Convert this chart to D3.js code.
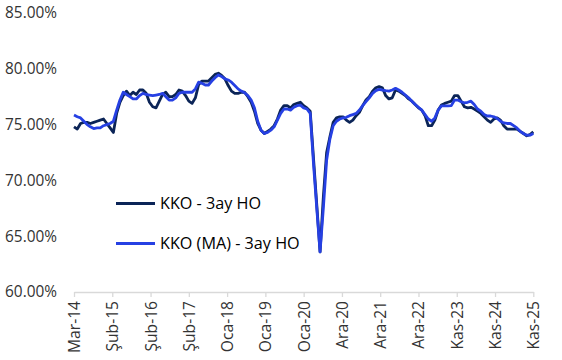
<!DOCTYPE html>
<html>
<head>
<meta charset="utf-8">
<script src="https://cdn.jsdelivr.net/npm/d3@7"></script>
<style>
  html, body { margin: 0; padding: 0; background: #fff; }
  svg { display: block; font-family: 'Open Sans', 'Noto Sans', sans-serif; }
</style>
</head>
<body>
<svg id="chart" width="562" height="360"></svg>
<script>
// monthly values, Mar-14 .. Nov-25
const kko = [
  74.8, 74.6, 75.1, 75.2, 75.2, 75.1, 75.2, 75.3, 75.4, 75.5,
  75.1, 74.7, 74.3, 76.0, 77.0, 77.6, 78.0, 77.6, 77.9, 77.7,
  78.1, 78.1, 77.8, 77.0, 76.6, 76.5, 77.1, 77.7, 77.9, 77.5,
  77.5, 77.7, 78.1, 78.0, 77.6, 77.1, 76.9, 77.4, 78.6, 78.9,
  78.9, 78.9, 79.2, 79.5, 79.6, 79.4, 79.1, 78.5, 78.0, 77.8,
  77.8, 77.9, 77.9, 77.5, 77.0, 76.2, 75.1, 74.5, 74.2, 74.4,
  74.6, 74.9, 75.5, 76.3, 76.7, 76.7, 76.5, 76.8, 76.9, 77.0,
  76.7, 76.5, 76.2, 72.0, 67.8, 63.6, 68.5, 72.5, 73.9, 75.2,
  75.6, 75.7, 75.7, 75.4, 75.2, 75.4, 75.8, 76.1, 76.7, 77.2,
  77.5, 78.0, 78.3, 78.4, 78.3, 77.6, 77.3, 77.4, 78.1, 78.0,
  77.8, 77.6, 77.3, 77.1, 76.8, 76.5, 76.3, 75.8, 74.9, 74.9,
  75.4, 76.3, 76.75, 76.9, 77.0, 77.1, 77.6, 77.6, 77.1, 76.6,
  76.5, 76.55, 76.4, 76.2, 76.0, 75.7, 75.4, 75.2, 75.5, 75.6,
  75.4, 74.9, 74.6, 74.6, 74.6, 74.6, 74.4, 74.2, 74.0, 74.1,
  74.35
];

const kkoMa = [
  75.85, 75.7, 75.6, 75.3, 75.0, 74.8, 74.65, 74.7, 74.7, 74.9,
  75.0, 75.1, 75.3, 76.3, 77.2, 77.9, 77.7, 77.5, 77.3, 77.3,
  77.6, 77.8, 77.7, 77.65, 77.6, 77.65, 77.7, 77.8, 77.5, 77.2,
  77.2, 77.4, 77.8, 77.9, 77.9, 77.9, 77.9, 78.2, 78.8, 78.7,
  78.55, 78.55, 78.9, 79.2, 79.45, 79.3, 79.1, 79.0, 78.8, 78.5,
  78.2, 78.0, 77.85, 77.6, 77.2, 76.5, 75.3, 74.5, 74.2, 74.3,
  74.5, 74.8, 75.4, 76.0, 76.4, 76.4, 76.3, 76.55, 76.7, 76.75,
  76.5, 76.4, 76.0, 71.5, 67.5, 63.6, 67.5, 71.8, 73.7, 74.9,
  75.3, 75.5, 75.6, 75.65, 75.8, 75.9, 76.0, 76.3, 76.7, 77.05,
  77.4, 77.8, 78.05, 78.15, 78.1, 78.04, 78.0, 78.1, 78.25, 78.1,
  77.9, 77.65, 77.4, 77.1, 76.8, 76.55, 76.3, 75.9, 75.5, 75.3,
  75.6, 76.3, 76.67, 76.67, 76.67, 76.7, 77.2, 77.2, 77.05, 76.95,
  77.0, 77.1, 76.8, 76.4, 76.2, 75.9, 75.77, 75.77, 75.7, 75.55,
  75.3, 75.15, 75.1, 75.1, 74.9, 74.7, 74.4, 74.2, 74.05, 74.05,
  74.2
];

const xLabels = ['Mar-14', 'Şub-15', 'Şub-16', 'Şub-17', 'Oca-18', 'Oca-19', 'Oca-20',
  'Ara-20', 'Ara-21', 'Ara-22', 'Kas-23', 'Kas-24', 'Kas-25'];
const yTicks = [60, 65, 70, 75, 80, 85];
const seriesNames = ['KKO - 3ay HO', 'KKO (MA) - 3ay HO'];
const colors = ['#0b2457', '#2640e3'];

const svg = d3.select('#chart');
const n = kko.length;

const x = d3.scaleLinear().domain([0, n - 1]).range([74, 533.3]);
const y = d3.scaleLinear().domain([60, 85]).range([292, 13]);

// y labels, no axis line
const yAxis = svg.append('g')
  .attr('transform', 'translate(74,0)')
  .call(d3.axisLeft(y).tickValues(yTicks).tickSize(0).tickPadding(17)
    .tickFormat(d => d.toFixed(2) + '%'));
yAxis.select('.domain').remove();
yAxis.selectAll('text').attr('font-size', 15.4).attr('fill', '#333')
  .attr('font-family', "'Open Sans', sans-serif");

// x axis: evenly spaced ticks like the date axis
const tickPos = xLabels.map((d, i) => i * (n - 1) / (xLabels.length - 1));
const xAxis = svg.append('g')
  .attr('transform', 'translate(0,292)')
  .call(d3.axisBottom(x).tickValues(tickPos).tickSize(5).tickSizeOuter(0)
    .tickFormat((d, i) => xLabels[i]));
xAxis.select('.domain').attr('stroke', '#d9d9d9').attr('stroke-width', 1.3);
xAxis.selectAll('.tick line').attr('stroke', '#d9d9d9').attr('stroke-width', 1.3);
xAxis.selectAll('text')
  .attr('font-size', 15.6).attr('fill', '#333')
  .attr('font-family', "'Open Sans', sans-serif")
  .attr('transform', 'rotate(-90)')
  .attr('text-anchor', 'end')
  .attr('x', -9).attr('y', 0).attr('dy', '0.35em');

const line = d3.line().x((d, i) => x(i)).y(d => y(d));

[kko, kkoMa].forEach((s, k) => {
  svg.append('path')
    .datum(s)
    .attr('d', line)
    .attr('fill', 'none')
    .attr('stroke', colors[k])
    .attr('stroke-width', 2.8)
    .attr('stroke-linejoin', 'round');
});

// legend
const legend = svg.append('g');
seriesNames.forEach((name, k) => {
  const ly = 203.5 + k * 40;
  legend.append('line')
    .attr('x1', 116).attr('x2', 155).attr('y1', ly).attr('y2', ly)
    .attr('stroke', colors[k]).attr('stroke-width', 2.8);
  legend.append('text')
    .attr('x', 160).attr('y', ly).attr('dy', '0.35em')
    .attr('font-size', 16.2).attr('fill', '#000')
    .text(name);
});
</script>
</body>
</html>
